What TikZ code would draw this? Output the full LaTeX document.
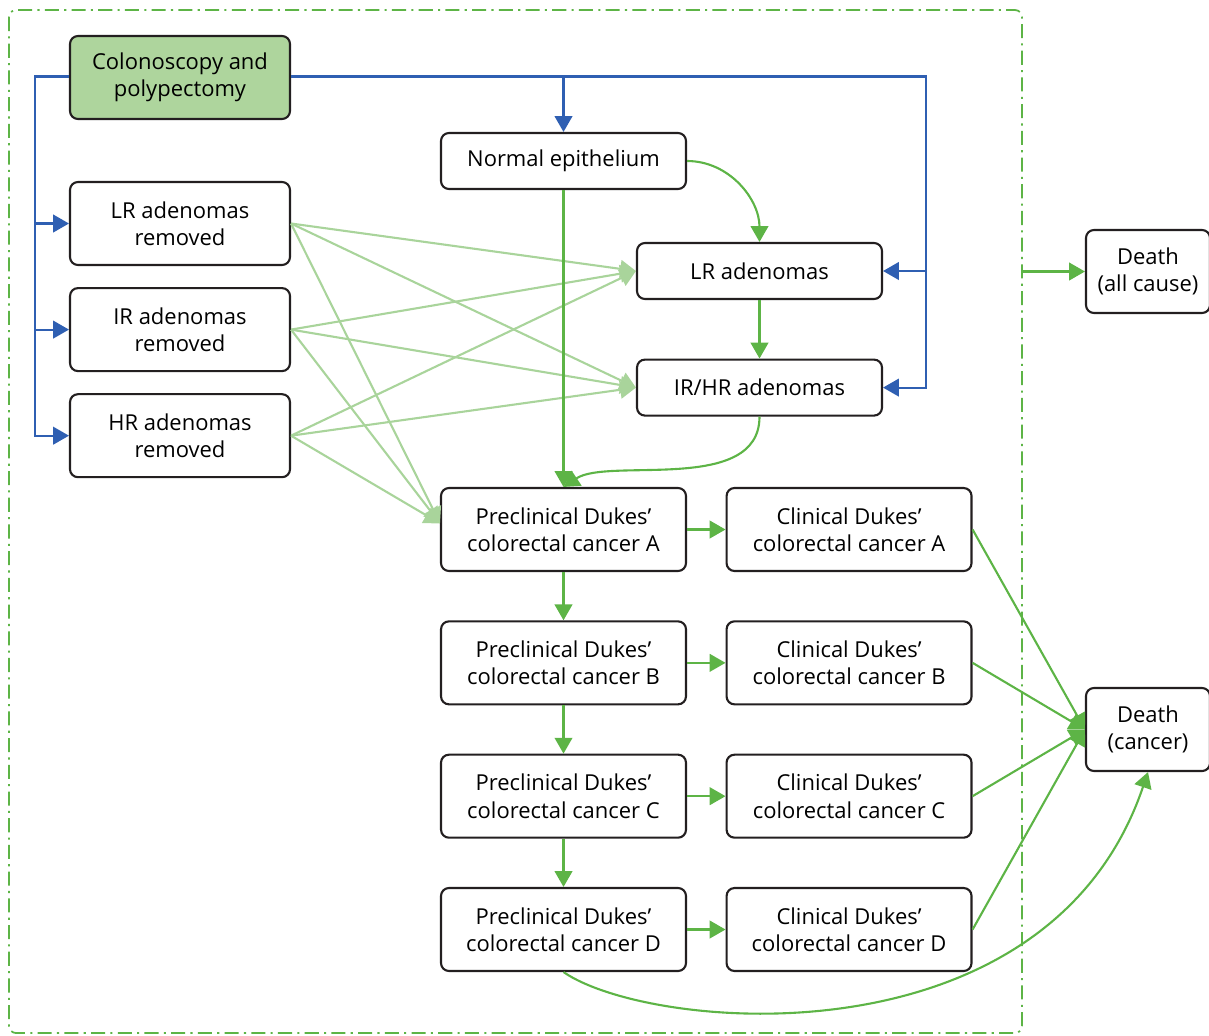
\documentclass[tikz,border=0pt]{standalone}
\usepackage{fontspec}
\setmainfont{Open Sans}
\usepackage{xcolor}
\usepackage{tikz}
\usetikzlibrary{arrows.meta,positioning}
\definecolor{modelgreen}{HTML}{5DB446}
\definecolor{palegreen}{HTML}{A9D49B}
\definecolor{boxgreen}{HTML}{AED59D}
\definecolor{modelblue}{HTML}{2F5FB2}
\definecolor{boxline}{HTML}{231F20}

\begin{document}
\begin{tikzpicture}[
    x=0.02cm, y=-0.02cm,
    node distance=0.965cm and 0.77cm,
    box/.style={rectangle, rounded corners=4.5pt, draw=boxline, line width=1.2pt, minimum width=4.4cm, minimum height=1.66cm, align=center, inner sep=2pt, font=\fontsize{12.5}{15.5}\selectfont},
    widebox/.style={box, minimum width=4.9cm},
    flatbox/.style={widebox, minimum height=1.12cm},
    deathbox/.style={box, minimum width=2.48cm},
    garrow/.style={-{Triangle[length=9pt,width=10pt]}, modelgreen, line width=1.2pt},
    parrow/.style={garrow, palegreen},
    barrow/.style={garrow, modelblue},
    dashframe/.style={modelgreen, line width=1pt, rounded corners=4pt, dash pattern=on 8pt off 3pt on 1.2pt off 3pt}
]
\useasboundingbox (0,0) rectangle (1209,1035);
\draw[dashframe] (9,10) rectangle (1022,1033);

\node[box, fill=boxgreen] (colon) at (180,77.5) {Colonoscopy and\\polypectomy};
\node[box] (LRrem) at (180,223.5) {LR adenomas\\removed};
\node[box, below=0.42cm of LRrem] (IRrem) {IR adenomas\\removed};
\node[box, below=0.42cm of IRrem] (HRrem) {HR adenomas\\removed};

\node[flatbox] (normal) at (563.5,161) {Normal epithelium};
\node[flatbox] (LR) at (759.5,271) {LR adenomas};
\node[flatbox, below=1.17cm of LR] (IRHR) {IR/HR adenomas};

\node[widebox] (preA) at (563.5,529.5) {Preclinical Dukes’\\colorectal cancer A};
\node[widebox, below=of preA] (preB) {Preclinical Dukes’\\colorectal cancer B};
\node[widebox, below=of preB] (preC) {Preclinical Dukes’\\colorectal cancer C};
\node[widebox, below=of preC] (preD) {Preclinical Dukes’\\colorectal cancer D};
\node[widebox, right=of preA] (clinA) {Clinical Dukes’\\colorectal cancer A};
\node[widebox, right=of preB] (clinB) {Clinical Dukes’\\colorectal cancer B};
\node[widebox, right=of preC] (clinC) {Clinical Dukes’\\colorectal cancer C};
\node[widebox, right=of preD] (clinD) {Clinical Dukes’\\colorectal cancer D};

\node[deathbox] (deathAll) at (1148,271.5) {Death\\(all cause)};
\node[deathbox] (deathC) at (1148,729.5) {Death\\(cancer)};

\coordinate (busL) at (35,76.5);
\coordinate (busR) at (926,76.5);
\coordinate (frameR) at (1022,271.5);

\draw[barrow] (colon.west |- busL) -- (busL) |- (HRrem.west);
\draw[barrow] (busL |- LRrem.west) -- (LRrem.west);
\draw[barrow] (busL |- IRrem.west) -- (IRrem.west);
\draw[barrow] (colon.east |- busR) -- (busR) |- (IRHR.east);
\draw[barrow] (busR |- LR.east) -- (LR.east);
\draw[barrow] (normal.north |- busR) -- (normal.north);

\foreach \src in {LRrem,IRrem,HRrem} {
  \draw[parrow] (\src.east) -- (LR.west);
  \draw[parrow] (\src.east) -- (IRHR.west);
  \draw[parrow] (\src.east) -- ([yshift=3.5pt]preA.west);
}

\draw[garrow] (normal.east) to[out=0,in=90] (LR.north);
\draw[garrow] (LR) -- (IRHR);
\draw[garrow] (normal) -- (preA);
\draw[garrow] (IRHR.south) .. controls +(0,78) and +(45,-30) .. (preA.north);

\draw[garrow] (preA) -- (preB);
\draw[garrow] (preB) -- (preC);
\draw[garrow] (preC) -- (preD);
\foreach \stage in {A,B,C,D} {
  \draw[garrow] (pre\stage) -- (clin\stage);
  \draw[garrow] (clin\stage.east) -- (deathC.west);
}
\draw[garrow] (preD.south) .. controls +(87,60) and +(-100,295) .. (deathC.south);
\draw[garrow] (frameR) -- (deathAll.west);
\end{tikzpicture}
\end{document}
